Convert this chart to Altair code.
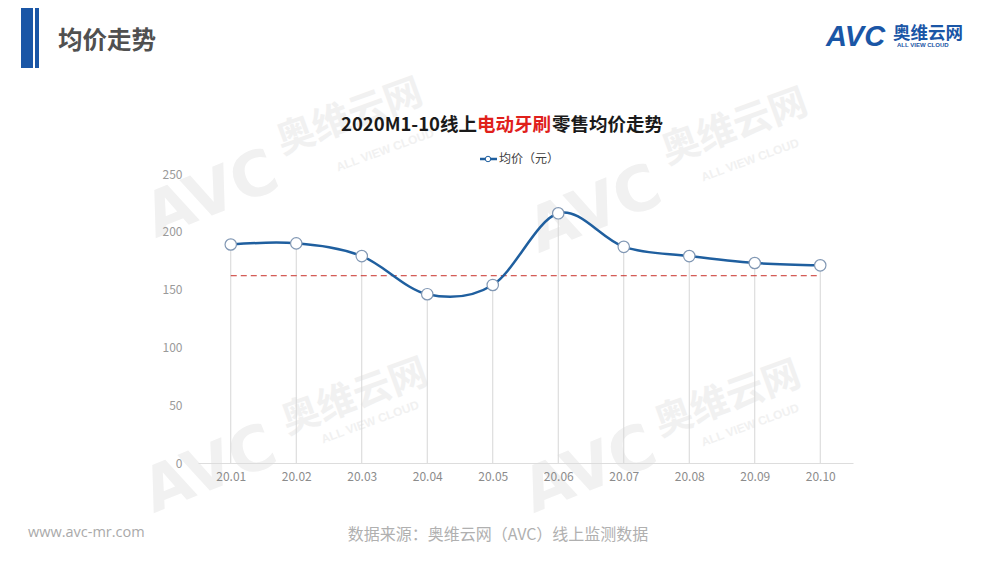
import altair as alt
import pandas as pd

# ---- data ----
months = ["20.01", "20.02", "20.03", "20.04", "20.05",
          "20.06", "20.07", "20.08", "20.09", "20.10"]
avg_price = [189, 190, 179, 146, 154, 216, 187, 179, 173, 171]
ref_line = 162
y_ticks = [0, 50, 100, 150, 200, 250]

df = pd.DataFrame({"month": months, "price": avg_price})
ref_df = pd.DataFrame({"start": [months[0]], "end": [months[-1]], "avg": [ref_line]})

W, H = 655, 289
CJK = "Noto Sans CJK SC"

xenc = alt.X("month:O", sort=months,
             scale=alt.Scale(type="point", padding=0.5),
             axis=alt.Axis(title=None, labelAngle=0, ticks=False, domainColor="#dddddd",
                           labelColor="#8c8c8c", labelFontSize=12, labelFont=CJK,
                           labelPadding=8, grid=False, zindex=1))
yenc = alt.Y("price:Q", scale=alt.Scale(domain=[0, 250], nice=False),
             axis=alt.Axis(title=None, values=y_ticks, grid=False, domain=False, ticks=False,
                           labelColor="#9a9a9a", labelFontSize=12, labelFont=CJK,
                           labelPadding=16, zindex=1))

base = alt.Chart(df)

drops = base.mark_rule(color="#d6d6d6", strokeWidth=1).encode(
    x=xenc, y=yenc, y2=alt.datum(0))

ref = alt.Chart(ref_df).mark_rule(color="#c8302a", strokeDash=[6, 4], strokeWidth=1).encode(
    x=alt.X("start:O", sort=months), x2="end:O", y=alt.Y("avg:Q"))

line = base.mark_line(interpolate="cardinal", color="#1f5f9f", strokeWidth=2.5).encode(
    x=xenc, y=yenc)

pts = base.mark_circle(size=130, color="white", stroke="#8298b4", strokeWidth=1.2,
                       opacity=1).encode(x=xenc, y=yenc)


def txt(text, x, y, size, color, align="left", weight="normal", font=CJK,
        angle=0, style="normal"):
    kw = dict(text=text, align=align, baseline="middle", fontSize=size, color=color,
              fontWeight=weight, font=font, fontStyle=style)
    if angle:
        kw["angle"] = angle
    return alt.Chart(df.head(1)).mark_text(**kw).encode(x=alt.value(x), y=alt.value(y))


def rect(x1, x2, y1, y2, color):
    return alt.Chart(df.head(1)).mark_rect(color=color).encode(
        x=alt.value(x1), x2=alt.value(x2), y=alt.value(y1), y2=alt.value(y2))


wm_color = "#f1f1f1"
watermarks = []
for (ax, ay), (bx, by), (cx, cy) in [
    ((14, 21), (152, -56), (187, -24)),
    ((397, 36), (537, -46), (552, -14)),
    ((12, 296), (157, 224), (172, 248)),
    ((392, 296), (530, 226), (552, 251)),
]:
    watermarks.append(txt("AVC", ax, ay, 62, wm_color, align="center", weight="bold",
                          font="DejaVu Sans", angle=338))
    watermarks.append(txt("奥维云网", bx, by, 38, wm_color, align="center", weight="bold",
                          angle=340))
    watermarks.append(txt("ALL VIEW CLOUD", cx, cy, 12, wm_color, align="center",
                          weight="bold", font="Liberation Sans", angle=340))

blue = "#1a56a6"
decor = [
    rect(-177, -165, -166, -106, blue),
    rect(-163, -159, -166, -106, blue),
    txt("均价走势", -140, -132, 24.5, "#505050", weight="bold"),
    txt("AVC", 628, -137, 29, blue, weight="bold", font="Liberation Sans", style="italic"),
    txt("奥维云网", 695, -140, 17.5, blue, weight="bold"),
    txt("ALL VIEW CLOUD", 699, -129, 6, blue, weight="bold", font="Liberation Sans"),
    txt("2020M1-10线上", 279, -49, 18.5, "#1a1a1a", align="right", weight="bold"),
    txt("电动牙刷", 279, -49, 18.5, "#e0201b", weight="bold"),
    txt("零售均价走势", 354, -49, 18.5, "#1a1a1a", weight="bold"),
    alt.Chart(df.head(1)).mark_rule(color="#1f5f9f", strokeWidth=2.5).encode(
        x=alt.value(282), x2=alt.value(299), y=alt.value(-15)),
    alt.Chart(df.head(1)).mark_circle(size=30, color="white", stroke="#1f5f9f",
                                      strokeWidth=1, opacity=1).encode(
        x=alt.value(290), y=alt.value(-15)),
    txt("均价（元）", 301, -15, 12, "#404040"),
    txt("www.avc-mr.com", -170, 359, 14.5, "#aaaaaa", font="Open Sans"),
    txt("数据来源：奥维云网（AVC）线上监测数据", 300, 361, 16, "#b0b0b0", align="center"),
]

chart = alt.layer(*watermarks, drops, ref, line, pts, *decor).properties(
    width=W, height=H,
    autosize=alt.AutoSizeParams(type="none"),
    padding={"left": 190, "top": 166, "right": 139, "bottom": 92},
    background="white",
).configure_view(stroke=None)

chart.save("out.html", embed_options={"renderer": "svg", "actions": False})
